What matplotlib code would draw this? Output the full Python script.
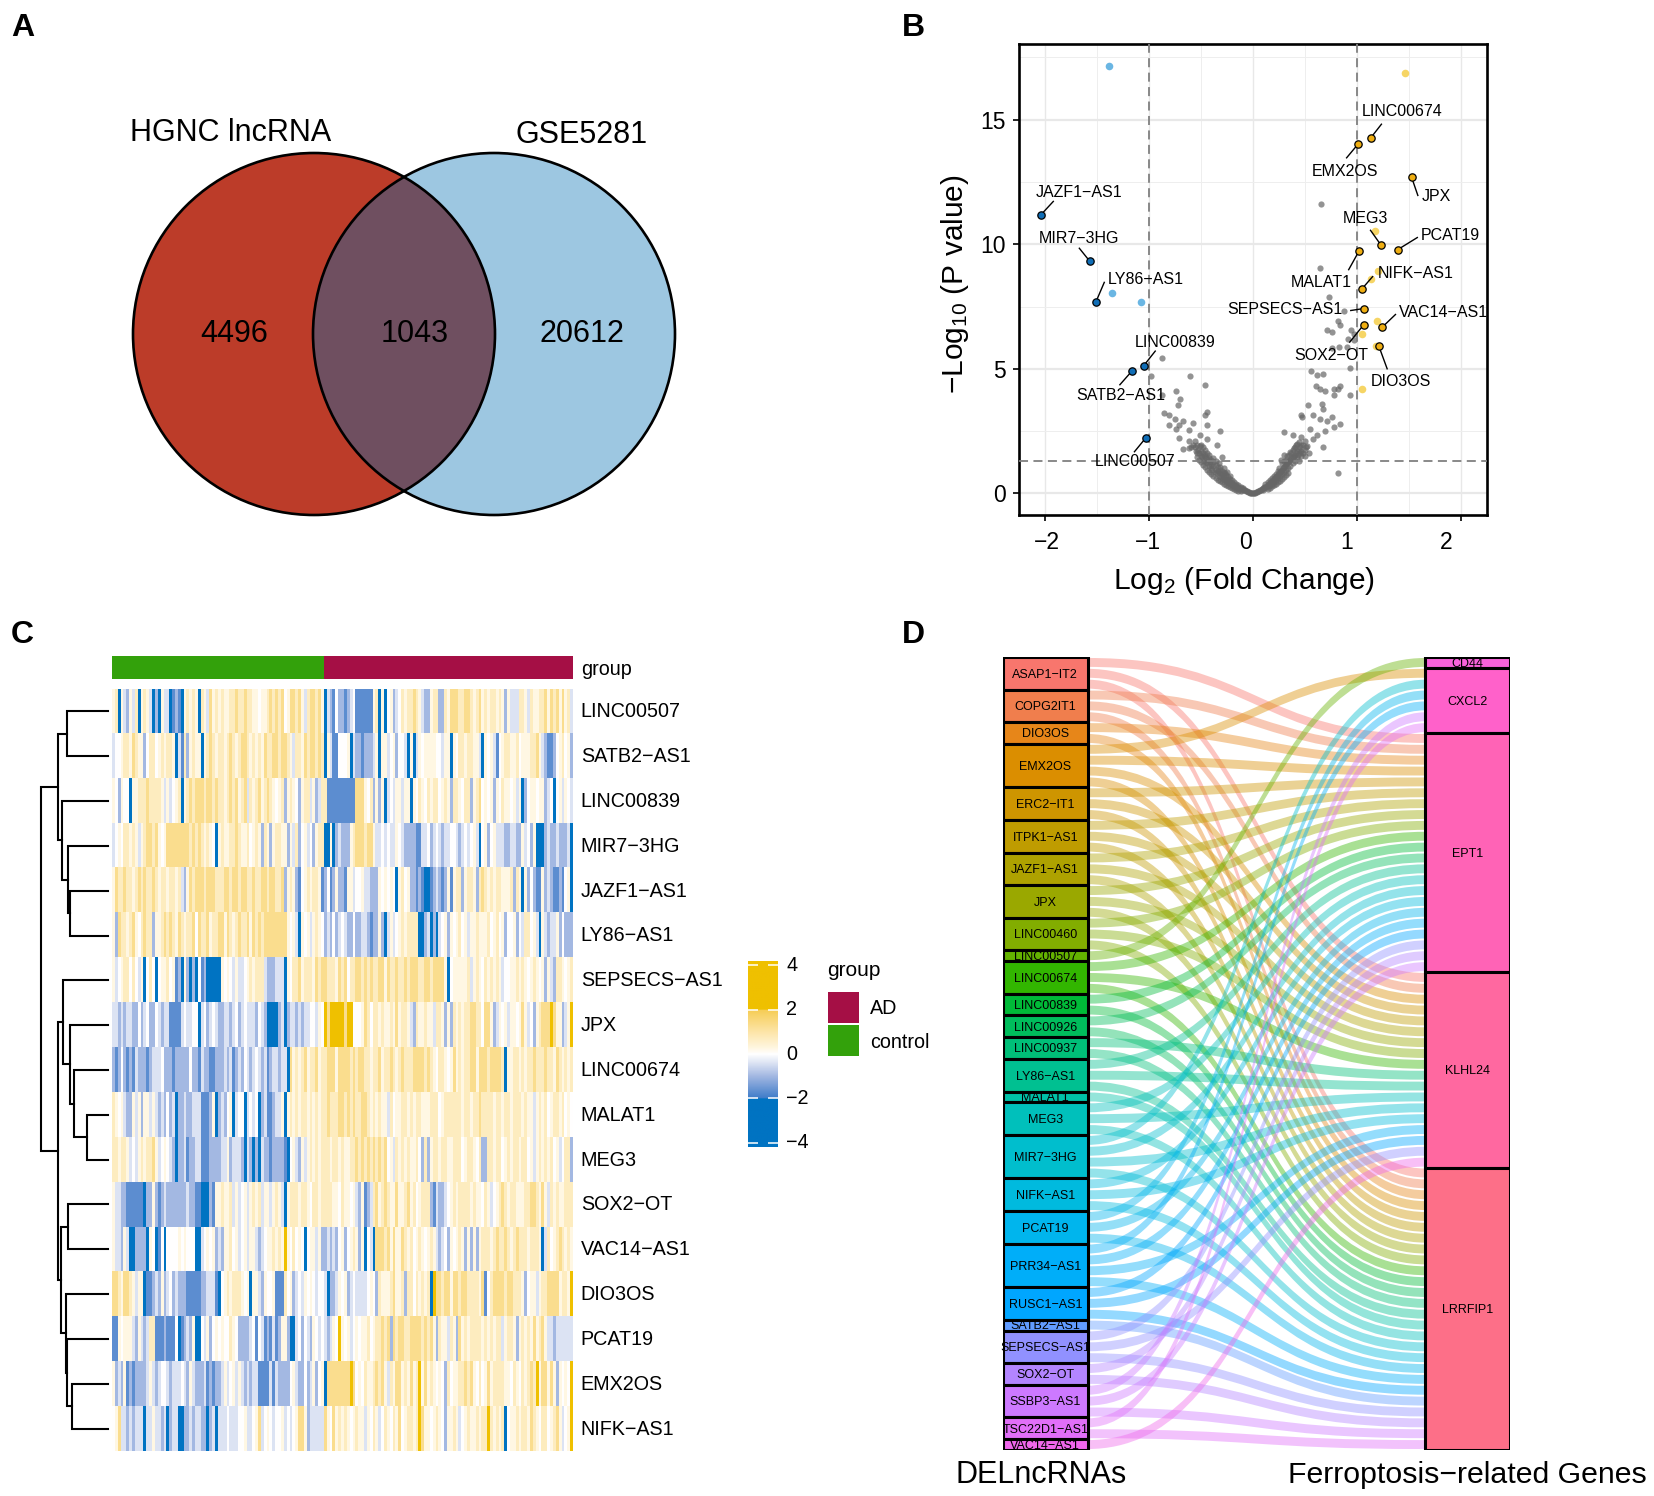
import numpy as np
import matplotlib
matplotlib.use("Agg")
import matplotlib.pyplot as plt
from matplotlib.colors import LinearSegmentedColormap, Normalize
from matplotlib.patches import Circle, PathPatch, Rectangle
from matplotlib.path import Path
from matplotlib.transforms import ScaledTranslation

plt.rcParams['font.family'] = ['Liberation Sans', 'DejaVu Sans']
plt.rcParams['mathtext.fontset'] = 'custom'
plt.rcParams['mathtext.rm'] = 'Liberation Sans'
plt.rcParams['mathtext.default'] = 'regular'
plt.rcParams['axes.unicode_minus'] = True

W, H = 1654, 1496

# ---- A: venn
venn_labels = ['HGNC lncRNA', 'GSE5281']
venn_counts = [4496, 1043, 20612]

# ---- B: volcano
up_names = ['LINC00674', 'EMX2OS', 'JPX', 'MEG3', 'PCAT19', 'MALAT1', 'NIFK-AS1',
            'SEPSECS-AS1', 'SOX2-OT', 'VAC14-AS1', 'DIO3OS']
up_x = [1.13, 1.01, 1.525, 1.23, 1.39, 1.02, 1.05, 1.065, 1.065, 1.24, 1.21]
up_y = [14.26, 14.02, 12.69, 9.97, 9.78, 9.73, 8.22, 7.42, 6.77, 6.66, 5.91]
down_names = ['JAZF1-AS1', 'MIR7-3HG', 'LY86-AS1', 'LINC00839', 'SATB2-AS1', 'LINC00507']
down_x = [-2.04, -1.57, -1.51, -1.05, -1.166, -1.03]
down_y = [11.18, 9.32, 7.69, 5.13, 4.9, 2.23]
other_up_x = [1.465, 1.175, 1.2, 1.13, 1.19, 1.05, 1.18, 1.05]
other_up_y = [16.87, 10.52, 8.93, 8.62, 6.92, 6.39, 5.91, 4.17]
other_down_x = [-1.38, -1.355, -1.08]
other_down_y = [17.17, 8.03, 7.68]
grey_sparse = [
    (.65, 11.6), (.64, 9.03), (.73, 7.87), (.875, 7.31), (.71, 6.55), (.76, 6.47), (.82, 6.92),
    (.84, 6.76), (.945, 6.55), (.97, 6.39), (.91, 6.2), (.76, 5.83), (.83, 5.87), (.9, 5.87),
    (.97, 6.15), (.93, 5.04), (.56, 4.91), (.62, 4.75), (.67, 4.8), (.61, 4.32), (.645, 4.17),
    (.69, 4.12), (.78, 4.17), (.84, 4.32), (.82, 4.17), (.78, 3.93), (.93, 3.93), (.53, 3.53),
    (.475, 3.05), (.46, 3.13), (.66, 3.6), (.67, 3.37), (.645, 2.97), (.58, 3.13), (.76, 3.05),
    (.71, 2.89), (.84, 2.77), (.78, 2.65), (.69, 2.5), (.62, 2.34), (.55, 2.58), (.3, 2.45),
    (.38, 2.34), (.46, 2.26), (.58, 2.18), (.67, 1.86), (.51, 1.86), (.815, .8),
    (-.875, 5.44), (-.98, 4.72), (-.61, 4.72), (-.46, 4.36), (-.74, 4.12), (-.705, 3.8),
    (-.875, 3.93), (-.72, 3.53), (-.86, 3.21), (-.81, 3.16), (-.44, 3.26), (-.46, 3.13),
    (-.75, 2.97), (-.67, 2.89), (-.81, 2.73), (-.71, 2.73), (-.74, 2.58), (-.58, 2.81),
    (-.62, 2.53), (-.44, 2.73), (-.32, 2.5), (-.51, 2.34), (-.71, 2.21), (-.44, 2.18),
    (-.62, 2.1), (-.35, 1.94), (-.67, 1.78),
]
grey_left = [
    (-.58, 1.95), (-.56, 1.85), (-.55, 1.7), (-.54, 1.95), (-.53, 1.75), (-.52, 1.6), (-.51, 1.9),
    (-.5, 1.5), (-.5, 1.7), (-.49, 1.45), (-.48, 1.6), (-.47, 1.3), (-.47, 1.5), (-.46, 1.75),
    (-.45, 1.25), (-.45, 1.4), (-.44, 1.2), (-.43, 1.35), (-.42, 1.1), (-.41, 1.25), (-.4, 1.0),
    (-.4, 1.15), (-.39, .95), (-.38, 1.1), (-.37, .85), (-.36, .95), (-.35, .8), (-.34, .9),
    (-.33, .7), (-.32, .8), (-.31, .65), (-.3, .72), (-.29, .58), (-.28, .65), (-.27, .52),
    (-.26, .58), (-.25, .46), (-.24, .52), (-.23, .4), (-.22, .46), (-.21, .36), (-.2, .4),
    (-.19, .3), (-.18, .34), (-.17, .26), (-.16, .29), (-.15, .22), (-.14, .24), (-.13, .18),
    (-.12, .2), (-.11, .15), (-.1, .16), (-.09, .12), (-.08, .12), (-.07, .09), (-.06, .08),
    (-.05, .06), (-.04, .05), (-.03, .03), (-.02, .02), (-.01, .01), (0, 0),
    (-.42, 1.55), (-.38, 1.4), (-.33, 1.2), (-.28, 1.0), (-.36, 1.3), (-.3, 1.45), (-.25, .85),
    (-.22, .7), (-.32, 1.05), (-.27, .8),
    (-.56, 2.1), (-.54, 1.6), (-.52, 1.35), (-.5, 1.25), (-.48, 1.15), (-.46, 1.05), (-.44, .95),
    (-.42, .85), (-.4, .78), (-.38, .7), (-.36, .62), (-.34, .55), (-.32, .5), (-.3, .44),
    (-.28, .38), (-.26, .33), (-.24, .28), (-.22, .24), (-.2, .2), (-.18, .17), (-.16, .14),
    (-.14, .11), (-.12, .09), (-.5, 1.95), (-.48, 1.85), (-.46, 1.55), (-.44, 1.6), (-.42, 1.4),
    (-.4, 1.35), (-.38, 1.25), (-.36, 1.15), (-.34, 1.05), (-.32, .95), (-.3, .88), (-.28, .8),
    (-.26, .72), (-.24, .65), (-.22, .58), (-.2, .52), (-.18, .45), (-.16, .38), (-.14, .32),
    (-.12, .26), (-.1, .22), (-.54, 1.45), (-.6, 1.85), (-.62, 1.8),
]
grey_right = [
    (.01, .01), (.02, .02), (.03, .04), (.04, .06), (.05, .08), (.06, .1), (.07, .13), (.08, .15),
    (.09, .18), (.1, .2), (.11, .24), (.12, .27), (.13, .3), (.14, .33), (.15, .37), (.16, .4),
    (.17, .44), (.18, .48), (.19, .5), (.2, .56), (.21, .6), (.22, .64), (.23, .7), (.24, .74),
    (.25, .8), (.26, .85), (.27, .9), (.28, .95), (.29, 1.0), (.3, 1.06), (.31, 1.1), (.32, 1.16),
    (.33, 1.2), (.34, 1.26), (.35, 1.3), (.36, 1.35), (.37, 1.4), (.38, 1.47), (.39, 1.5),
    (.4, 1.55), (.41, 1.6), (.42, 1.7), (.44, 1.75), (.45, 1.85), (.46, 1.95), (.5, 2.1),
    (.12, .2), (.15, .28), (.18, .36), (.2, .45), (.22, .52), (.24, .6), (.26, .68), (.28, .76),
    (.3, .84), (.32, .92), (.34, 1.0), (.36, 1.1), (.38, 1.2), (.4, 1.3), (.42, 1.4),
    (.25, 1.0), (.28, 1.2), (.3, 1.3), (.33, 1.5), (.36, 1.65), (.4, 1.85), (.38, 1.75), (.42, 2.0),
    (.3, 1.55), (.27, 1.35),
    (.1, .14), (.44, 1.3), (.46, 1.5), (.48, 1.6), (.5, 1.75), (.52, 1.9), (.54, 1.6), (.44, 2.05),
    (.46, 1.7), (.48, 1.95), (.5, 1.5), (.34, .8), (.32, .72), (.3, .65), (.28, .58), (.26, .5),
    (.24, .44), (.22, .38), (.2, .32), (.18, .28), (.16, .22), (.14, .18), (.24, .9), (.22, .78),
    (.2, .7), (.18, .6), (.16, .52), (.14, .44), (.12, .36), (.35, 1.55), (.37, 1.6), (.39, 1.8),
    (.32, 1.35), (.41, 1.95), (.43, 1.55), (.45, 1.6),
]

# ---- C: heatmap, one letter per sample, ten samples to a block
heat_genes = ['LINC00507', 'SATB2-AS1', 'LINC00839', 'MIR7-3HG', 'JAZF1-AS1', 'LY86-AS1',
              'SEPSECS-AS1', 'JPX', 'LINC00674', 'MALAT1', 'MEG3', 'SOX2-OT', 'VAC14-AS1',
              'DIO3OS', 'PCAT19', 'EMX2OS', 'NIFK-AS1']
heat_levels = {'B': -3, 'b': -1.7, 'm': -1, 'c': -.4, 'w': 0, 'l': .25, 'y': .7, 'Y': 1.3, 'G': 2.5}
heat_rows = [
    "lyBlcmlcyB lylcBmBlcc BbmbBlylyl BylcYlylyl lyyYyyYyyl lwllyYyYyY wlYYyYlcyY YyYlBcmbwm mbmcwbbbbb blyBlBwlmc wylyyYylcm mlyymmylYY YyyYYylyYl ylyylylmlc ccyylcylly yYlYyYlYlyc",
    "cwwlyylYyl lmwyywlyly ylBcbymlyl lBlyYylyyl yYylyYYyly lylYyyYYyY YylcyylYyY YyYyBlcbbw wwlBcmmbmm mclBllcwlm wwcBlBclwl lllwwcllBl wyylyyllcB lwlcbwlyyl lywlllyyYl cmbbmwlywlm",
    "lwmlwwBlly yyYyyyylcl cwlyBlyYyY YYyYYyYyyl yYyYlyYcyl yYlyYylwly mlylwmlyyc lmcyybbbbb bbbbbYYYlw ymlmlBcwcl lcllBlwylw ylyywlylmy ylwyymlyYw lwlmlwyllw lclBmwllwl lmcwBwlclwc",
    "cwlwyylylc lyYYyYlwlY YYYYYYYyYy YylylwBlyl lyyYyllywl ylmylmlyyl lmlcymwlcw mlyyBBlBmc mmmlyYYYyY Ylccwcwccl wcmmmmbbcc wmcwcmccww cmcwcwlcBw lmwlcccmmc cmmlcwmlBB BmcmmcmmmcB",
    "lYyyYyylyY yYyyYylyyl yylycmlYyY YYyYYYyyyY YyYYyYYyyY yyYYyYYyyY mlylmbwlyl yylbmwbmlm mbllcwwlcc mmmlwlwlwB lywlmmbmbB Bbmcmbmlbl yymlyylmyY ylylyyllly mylBlmwmbb lmcmbbmbwlB",
    "lmYyylyYlw yYyymllyYy YylYylyyYw YyyYlyyYYl YylyYyyYlY yYyYYYYYYY YlwlcBlwlc lylwmcmwmc wcmmwmmccm bmmlmBclcw lylyyyyBBm cBmBcwlmlw lywlcllyll lywlywlmww lmwcyywlcB lcmcclmwmmm",
    "lcwlyywywc lBwywBwlly wlbmBlmBmB wbmBBBBBlw lwclccwlyl yyycmmmccc BlwyyYlyyy lYyYYyyylY yYwyyYYyYy YyyYYlYyyY yyYyYYYyyY YyYYYYlBwl llllyclylw ylylylcwwl lylylwlylw lmlcmyylwly",
    "ccmcmccmmw mcwmmwcmcc bbbbcwccww Bcwmcwcmmc cmcwmcwccc mwcmBBBBmc Bmccmcmccw wclwGYGGGG GYGGwwwlYy wyylyllylY lyylcmylly llcyylmlmy lylyyYYyyw YYlmclwlcl lwlYlcwmly YYYGYllmclG",
    "mbmwmbmbcm mmbmcccwmm mbmmmmmwmm bcmmbbmmmc mcbmcmwcmc wcmcbmccmc cBYlylyYly yYlyyYYYlY YYYyYyYYyy lyyYlyyYyl yYyyyYYYYy YylwyylwlY lylyyYYlYY YyYYYYyBll yylylyyYyy yYyylYylyly",
    "ylwlcmmlcl mllclcmcmw mcBmmcmmcc cbbbmlBmcm wlBcwwBcwc wBmcbbmccl Blylylyyly lylyyYyyyY YyYyYyyYYy lylyllcywl lyylylyyll lyyywlyyyy yylyylyyYy yyylyylyyl yyylyllcly lywlyylywlw",
    "yylyylcwcl ylyyYlcwlw cmBmmcbmmc cbbbmmmmcc lmcccmBcmB mBcmmbmmmm bBwlcmlcly lylyyylyyl yllyyYyYyY yYyYyYwlcy lylyllywmy mlyylyylly yywlyylwym myylyywlyl yylyywlcly lylywlcwyym",
    "lccmmbbbbb bBmmlmbmcm mmmmmmcmmb bBBBmbllyl lyclcwlcly lycllclylc Blyyylyylw yylyyyyllw yllwlcmlbm cyYlyYyllY llyYlywlyy ymbcmmcwly lyyyylyllw ylcwlyYyly ylllyyYYyl Ylcylyllyyy",
    "lccmlcBBmm mmBlwBbwBw wwwlwlwwwB Bcwlwlmcml lywlcwlcll cmcwllylyl GlwywlwBwl lclmmcmcmw lmwlylmlBw cBYYYyYlYl lYylywlylw lylcmcwmlw lylmlmlmly yylyYyyYyl yYyyylyyyl BcywlyYylyl",
    "YYylYYylcl lBbbmcmlmc wmcmmmbbbb bmmcccbBwl ylyyylwlBl lcmlwwlbbb ywlmcwclwl wcwwcBmmcl wlmcwccccw lwmylllyYl lymyywylyl yBGYYyYYlY YyYYyyyylY bwyYYYYyYY yyylmwllcl yyYYYYlyylG",
    "bblwlllcml cmcyybbbmb bbwBbmcmlB Bwclmwlwlw wylwmmmmcw bwcbmbcbml lmBBcwmwcm lwcwcmclwG lwlcwlwlly wlyyYyYmYy YYyyYYYYyY yYlmyllcyl mYlylyyyyl ylylyyclyy lmlylylYly Ylccmcccccc",
    "lmcmlbmbmm mmclcmcwwc mcccwcmlcm mmcbmbmmcl cwlclcmcmc cbbbbcbcmm mmwlcmmwmc lmwlBYYYYY YYYGYwlwyl lyYyYlcylY YlylYlyGlY lylwlwmywl lyyYyYlwyw lYlyyyyllw ylwylyYyGl YYlYlmlwlwG",
    "wlYccmcmcc cBcclccmcB mccBBmmcmc cmmBmcBccc wcccwwlccw lYcwlwcwwl cwcwlYYlmc ccccYlwYly lylwlyllcl wylcwylwyl YwlyylyGYl lwlylwmlly lcwlyllyly yGylylyBwl lylyylYylw yywlyYlcwlG",
]
group_names = ['AD', 'control']
group_sizes = {'control': 74, 'AD': 87}
# merge height, then the two children (row index or another merge)
dendro_tree = (173,
               (128, (105, 0, 1), (118, 2, (102, 3, (97, 4, 5)))),
               (128,
                (115, 6, (98, 7, (88, 8, (54, 9, 10)))),
                (120, (103, 11, 12), (108, 13, (105, 14, (93, 15, 16))))))
cbar_ticks = [4, 2, 0, -2, -4]

# ---- D: alluvial, letters are the target genes of each lncRNA
lnc_names = ['ASAP1-IT2', 'COPG2IT1', 'DIO3OS', 'EMX2OS', 'ERC2-IT1', 'ITPK1-AS1', 'JAZF1-AS1',
             'JPX', 'LINC00460', 'LINC00507', 'LINC00674', 'LINC00839', 'LINC00926', 'LINC00937',
             'LY86-AS1', 'MALAT1', 'MEG3', 'MIR7-3HG', 'NIFK-AS1', 'PCAT19', 'PRR34-AS1',
             'RUSC1-AS1', 'SATB2-AS1', 'SEPSECS-AS1', 'SOX2-OT', 'SSBP3-AS1', 'TSC22D1-AS1',
             'VAC14-AS1']
lnc_targets = ['EKL', 'EKL', 'EL', 'XEKL', 'EKL', 'EKL', 'EKL', 'EKL', 'EKL', 'C', 'EKL', 'EL',
               'EL', 'KL', 'EKL', 'L', 'EKL', 'XEKL', 'EKL', 'XEL', 'XEKL', 'EKL', 'L', 'EKL',
               'EL', 'XEL', 'XL', 'K']
gene_codes = ['C', 'X', 'E', 'K', 'L']
gene_names = ['CD44', 'CXCL2', 'EPT1', 'KLHL24', 'LRRFIP1']


def minus(s):
    return s.replace('-', '\u2212')


def hcl(h, c=100, l=65):
    # same colour wheel as ggplot's default discrete palette
    hr = np.deg2rad(h)
    u, v = c * np.cos(hr), c * np.sin(hr)
    y = ((l + 16) / 116) ** 3
    un, vn = 0.19784, 0.46834
    up, vp = u / (13 * l) + un, v / (13 * l) + vn
    x = 9 * y * up / (4 * vp)
    z = y * (12 - 3 * up - 20 * vp) / (4 * vp)
    rgb = np.dot([[3.2406, -1.5372, -0.4986], [-0.9689, 1.8758, 0.0415], [0.0557, -0.2040, 1.0570]],
                 [x, y, z])
    rgb = np.clip(rgb, 0, 1)
    return tuple(np.where(rgb <= 0.0031308, 12.92 * rgb, 1.055 * rgb ** (1 / 2.4) - 0.055))


def px_axes(fig, x0, y0, x1, y1):
    return fig.add_axes([x0 / W, 1 - y1 / H, (x1 - x0) / W, (y1 - y0) / H])


def draw_venn(ax):
    left = Circle((314, 334), 181, facecolor='#BC3C29', edgecolor='none', zorder=1)
    right = Circle((494, 334), 181, facecolor='#9DC7E1', edgecolor='none', zorder=1)
    ax.add_patch(left)
    ax.add_patch(right)
    both = Circle((314, 334), 181, facecolor='#6F4F60', edgecolor='none', zorder=2)
    ax.add_patch(both)
    both.set_clip_path(Circle((494, 334), 181, transform=ax.transData))
    for cx in (314, 494):
        ax.add_patch(Circle((cx, 334), 181, fill=False, edgecolor='black', linewidth=1.9, zorder=3))
    ax.text(231, 133, venn_labels[0], fontsize=22, ha='center', va='center')
    ax.text(582, 135, venn_labels[1], fontsize=22, ha='center', va='center')
    for x, n in zip((234, 415, 582), venn_counts):
        ax.text(x, 334, str(n), fontsize=22, ha='center', va='center', zorder=4)


def draw_volcano(ax):
    ax.set_xlim(-2.25, 2.25)
    ax.set_ylim(-0.87, 18.04)
    ax.set_xticks([-2, -1, 0, 1, 2])
    ax.set_yticks([0, 5, 10, 15])
    ax.set_xticks([-1.5, -.5, .5, 1.5], minor=True)
    ax.set_yticks([2.5, 7.5, 12.5, 17.5], minor=True)
    ax.tick_params(which='minor', length=0)
    ax.tick_params(which='major', length=4.5, width=1.2, labelsize=16.5)
    ax.tick_params(axis='x', which='major', pad=7)
    ax.tick_params(axis='y', which='major', pad=5)
    ax.set_axisbelow(True)
    ax.grid(axis='x', which='major', color='#e8e8e8', linewidth=1.0)
    ax.grid(axis='y', which='major', color='#e8e8e8', linewidth=1.6)
    ax.grid(which='minor', color='#eeeeee', linewidth=0.7)
    for s in ax.spines.values():
        s.set_linewidth(1.9)

    grey = np.array(grey_sparse + grey_left + grey_right)
    ax.scatter(grey[:, 0], grey[:, 1], s=20, color='#666666', alpha=0.7, linewidths=0, zorder=2)
    ax.scatter(other_up_x, other_up_y, s=30, color='#F5D154', alpha=0.9, linewidths=0, zorder=3)
    ax.scatter(other_down_x, other_down_y, s=30, color='#5AAEE0', alpha=0.9, linewidths=0, zorder=3)
    ax.axhline(1.3, color='#808080', linestyle=(0, (5, 3)), linewidth=1.3, zorder=3)
    ax.axvline(-1, color='#808080', linestyle=(0, (5, 3)), linewidth=1.3, zorder=3)
    ax.axvline(1, color='#808080', linestyle=(0, (5, 3)), linewidth=1.3, zorder=3)
    ax.scatter(up_x, up_y, s=28, color='#EFAE12', edgecolors='black', linewidths=0.9, zorder=5)
    ax.scatter(down_x, down_y, s=28, color='#0F6DB6', edgecolors='black', linewidths=0.9, zorder=5)

    # label position, end of the connector
    spots = {
        'LINC00674': (1.43, 15.31, 1.235, 14.82), 'EMX2OS': (0.88, 12.91, 0.9, 13.47),
        'JPX': (1.76, 11.91, 1.585, 11.96), 'JAZF1-AS1': (-1.67, 12.08, -1.92, 11.72),
        'MIR7-3HG': (-1.67, 10.22, -1.67, 9.84), 'LY86-AS1': (-1.03, 8.58, -1.43, 8.47),
        'LINC00839': (-0.75, 6.07, -0.94, 5.71), 'SATB2-AS1': (-1.27, 3.93, -1.28, 4.36),
        'LINC00507': (-1.13, 1.27, -1.14, 1.67), 'MEG3': (1.08, 11.02, 1.13, 10.56),
        'PCAT19': (1.90, 10.35, 1.58, 10.27), 'MALAT1': (0.66, 8.48, 0.92, 8.98),
        'NIFK-AS1': (1.56, 8.82, 1.15, 8.7), 'SEPSECS-AS1': (0.31, 7.4, 0.94, 7.34),
        'VAC14-AS1': (1.83, 7.27, 1.37, 7.18), 'SOX2-OT': (0.75, 5.55, 0.93, 6.07),
        'DIO3OS': (1.42, 4.5, 1.29, 5.0),
    }
    for name, x, y in zip(up_names + down_names, up_x + down_x, up_y + down_y):
        tx, ty, ex, ey = spots[name]
        ax.plot([x, ex], [y, ey], color='black', linewidth=1.0, zorder=4)
        ax.text(tx, ty, minus(name), fontsize=11.5, ha='center', va='center', zorder=6, clip_on=False)

    ax.set_xlabel(r'Log$_2$ (Fold Change)', fontsize=21.5)
    ax.set_ylabel('\u2212Log$_{10}$ (P value)', fontsize=21.5)
    ax.xaxis.set_label_coords(0.48, -0.106)
    ax.yaxis.set_label_coords(-0.103, 0.49)
    # the tick numbers sit a little left of their ticks in the source
    for lab, dx in zip(ax.get_xticklabels(), (2, -1, -8, -10, -15)):
        lab.set_transform(lab.get_transform() + ScaledTranslation(dx / 100, 0, ax.figure.dpi_scale_trans))


def heat_cmap():
    nodes = [(-4.2, '#0073C2'), (-2.02, '#0073C2'), (-2.0, '#3F7CC9'), (-1, '#A3B8E2'),
             (-0.4, '#DDE4F4'), (0, '#FFFFFF'), (0.3, '#FFF6DF'), (1, '#FDE5A8'), (2.0, '#F6CD55'),
             (2.02, '#EFC000'), (4.2, '#EFC000')]
    return LinearSegmentedColormap.from_list(
        'jco', [((v + 4.2) / 8.4, c) for v, c in nodes], N=512)


def draw_dendro(ax):
    def walk(node):
        if not isinstance(node, tuple):
            return 0, node + 0.5
        h, a, b = node
        ha, ya = walk(a)
        hb, yb = walk(b)
        ax.plot([ha, h, h, hb], [ya, ya, yb, yb], color='black', linewidth=1.5,
                solid_joinstyle='miter', clip_on=False)
        return h, (ya + yb) / 2
    walk(dendro_tree)
    ax.set_xlim(175, 0)
    ax.set_ylim(len(heat_genes), 0)
    ax.axis('off')


def draw_heat(fig):
    matrix = np.array([[heat_levels[c] for c in row.replace(' ', '').ljust(161, 'w')[:161]]
                       for row in heat_rows])
    cmap = heat_cmap()
    norm = Normalize(-4.2, 4.2)

    bar = px_axes(fig, 112, 656, 573, 679)
    n_ctrl, n_ad = group_sizes['control'], group_sizes['AD']
    bar.barh(0, n_ctrl, left=0, height=1, color='#33A10B')
    bar.barh(0, n_ad, left=n_ctrl, height=1, color='#A50F45')
    bar.set_xlim(0, n_ctrl + n_ad)
    bar.set_ylim(-.5, .5)
    bar.axis('off')
    fig.text(581 / W, 1 - 669 / H, 'group', fontsize=14.2, va='center')

    ax = px_axes(fig, 112, 689, 573, 1451)
    ax.imshow(matrix, aspect='auto', cmap=cmap, norm=norm, interpolation='nearest',
              extent=(0, matrix.shape[1], len(heat_genes), 0))
    ax.axis('off')
    for i, g in enumerate(heat_genes):
        ax.text(1.017, i + 0.51, minus(g), transform=ax.get_yaxis_transform(), fontsize=14.2, va='center')

    draw_dendro(px_axes(fig, 40, 689, 108, 1451))

    cb = px_axes(fig, 748, 961, 778, 1147)
    vals = np.linspace(4.2, -4.2, 400)[:, None]
    cb.imshow(vals, aspect='auto', cmap=cmap, norm=norm, extent=(0, 1, -4.2, 4.2))
    cb.set_xlim(0, 1)
    cb.set_ylim(-4.2, 4.2)
    cb.axis('off')
    for t in cbar_ticks:
        cb.hlines(t, 0, 0.33, color='white', linewidth=1.1)
        cb.hlines(t, 0.67, 1, color='white', linewidth=1.1)
        cb.text(1.28, t, minus(str(t)), transform=cb.get_yaxis_transform(), fontsize=14.2, va='center')

    leg = fig.add_axes([0, 0, 1, 1], facecolor='none')
    leg.set_xlim(0, W)
    leg.set_ylim(H, 0)
    leg.axis('off')
    leg.text(827, 970, 'group', fontsize=15, va='center')
    leg.add_patch(Rectangle((828, 992), 31, 31, facecolor='#A50F45', edgecolor='none'))
    leg.add_patch(Rectangle((828, 1025), 31, 31, facecolor='#33A10B', edgecolor='none'))
    leg.text(870, 1008, group_names[0], fontsize=14.2, va='center')
    leg.text(870, 1042, group_names[1], fontsize=14.2, va='center')


def draw_alluvial(ax):
    n_all = sum(len(t) for t in lnc_targets)
    n_lnc = len(lnc_names)
    n_cols = n_lnc + len(gene_names)
    colors = [hcl(15 + 360 * i / n_cols) for i in range(n_cols)]
    ax.set_xlim(0.9, 2.1)
    ax.set_ylim(n_all, 0)
    ax.axis('off')

    gene_count = {g: sum(t.count(g) for t in lnc_targets) for g in gene_codes}
    gene_top = {}
    pos = 0
    for g in gene_codes:
        gene_top[g] = pos
        pos += gene_count[g]

    half = 0.1
    gap = 0.09
    left = 0
    for i, targets in enumerate(lnc_targets):
        for k, g in enumerate(sorted(targets, key=gene_codes.index)):
            y0, y1 = left + k, gene_top[g]
            gene_top[g] += 1
            xa, xb = 1 + half, 2 - half
            xm = (xa + xb) / 2
            verts = [(xa, y0 + gap), (xm, y0 + gap), (xm, y1 + gap), (xb, y1 + gap),
                     (xb, y1 + 1 - gap), (xm, y1 + 1 - gap), (xm, y0 + 1 - gap), (xa, y0 + 1 - gap),
                     (xa, y0 + gap)]
            codes = [Path.MOVETO, Path.CURVE4, Path.CURVE4, Path.CURVE4, Path.LINETO,
                     Path.CURVE4, Path.CURVE4, Path.CURVE4, Path.CLOSEPOLY]
            ax.add_patch(PathPatch(Path(verts, codes), facecolor=colors[i], edgecolor='none',
                                   alpha=0.42, zorder=1))
        ax.add_patch(Rectangle((1 - half, left), 2 * half, len(targets), facecolor=colors[i],
                               edgecolor='black', linewidth=2.2, zorder=3))
        ax.text(1, left + len(targets) / 2 + 0.12, minus(lnc_names[i]), fontsize=9, ha='center',
                va='center', zorder=4)
        left += len(targets)

    top = 0
    for j, (g, name) in enumerate(zip(gene_codes, gene_names)):
        ax.add_patch(Rectangle((2 - half, top), 2 * half, gene_count[g], facecolor=colors[n_lnc + j],
                               edgecolor='black', linewidth=2.2, zorder=3))
        ax.text(2, top + gene_count[g] / 2 + 0.12, name, fontsize=9, ha='center', va='center', zorder=4)
        top += gene_count[g]

    ax.text(0.99, n_all + 2.3, 'DELncRNAs', fontsize=22, ha='center', va='center', clip_on=False)
    ax.text(2, n_all + 2.3, minus('Ferroptosis-related Genes'), fontsize=21.8, ha='center',
            va='center', clip_on=False)


fig = plt.figure(figsize=(W / 100, H / 100), dpi=100)

canvas = fig.add_axes([0, 0, 1, 1])
canvas.set_xlim(0, W)
canvas.set_ylim(H, 0)
canvas.axis('off')
draw_venn(canvas)
for letter, x, y in [('A', 11, 28), ('B', 902, 28), ('C', 11, 635), ('D', 902, 635)]:
    canvas.text(x, y, letter, fontsize=23, fontweight='bold', va='center')

draw_volcano(px_axes(fig, 1019, 44, 1487, 515))
draw_heat(fig)
# box centres are 1 and 2, so this keeps 422 px between them
draw_alluvial(px_axes(fig, 1003, 657, 1510, 1450))

fig.savefig('out.png', dpi=100)
plt.close(fig)
